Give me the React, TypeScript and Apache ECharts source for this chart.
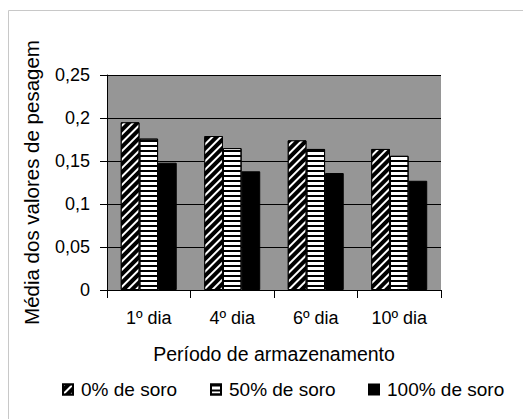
import React, { useEffect, useRef } from "react";
import * as echarts from "echarts";

const categories = ["1º dia", "4º dia", "6º dia", "10º dia"];
const seriesNames = ["0% de soro", "50% de soro", "100% de soro"];
const soro0 = [0.195, 0.179, 0.174, 0.164];
const soro50 = [0.176, 0.165, 0.164, 0.156];
const soro100 = [0.148, 0.138, 0.136, 0.127];
const yAxisTitle = "Média dos valores de pesagem";
const xAxisTitle = "Período de armazenamento";

const FONT = "'Liberation Sans', Arial, sans-serif";

export default function App() {
  const ref = useRef<HTMLDivElement>(null);
  useEffect(() => {
    if (!ref.current) return;
    const chart = echarts.init(ref.current, undefined, { renderer: "svg" });
    const borderStyle = { borderColor: "#000", borderWidth: 1 };
    const styles = [
      {
        color: "#000",
        ...borderStyle,
        decal: {
          symbol: "rect",
          symbolSize: 1,
          color: "#fff",
          dashArrayX: [1, 0],
          dashArrayY: [2, 4],
          rotation: -Math.PI / 4,
        },
      },
      {
        color: "#fff",
        ...borderStyle,
        decal: {
          symbol: "rect",
          symbolSize: 1,
          color: "#000",
          dashArrayX: [1, 0],
          dashArrayY: [2, 3],
          rotation: 0,
        },
      },
      { color: "#000", ...borderStyle },
    ];
    const data = [soro0, soro50, soro100];
    const legendLefts = [62, 210, 368];
    chart.setOption({
      animation: false,
      backgroundColor: "#fff",
      textStyle: { fontFamily: FONT },
      graphic: [
        {
          type: "rect",
          shape: { x: 8.5, y: 10.5, width: 700, height: 600 },
          style: { fill: "none", stroke: "#c8c8c8", lineWidth: 1 },
          silent: true,
        },
      ],
      grid: {
        left: 107,
        top: 75,
        right: 82,
        bottom: 129,
        show: true,
        backgroundColor: "#969696",
        borderWidth: 0,
      },
      legend: seriesNames.map((n, i) => ({
        data: [n],
        left: legendLefts[i],
        top: 380,
        padding: 0,
        itemWidth: 10,
        itemHeight: 10,
        icon: "rect",
        selectedMode: false,
        textStyle: { fontSize: 19, color: "#000", fontFamily: FONT, padding: [0, 0, 0, 3] },
      })),
      xAxis: {
        type: "category",
        data: categories,
        name: xAxisTitle,
        nameLocation: "middle",
        nameGap: 54,
        nameTextStyle: { fontSize: 19.5, color: "#000", fontFamily: FONT },
        axisLine: { show: true, lineStyle: { color: "#000", width: 1 } },
        axisTick: { show: true, length: 8, lineStyle: { color: "#000" } },
        axisLabel: { fontSize: 18, color: "#000", margin: 19, fontFamily: FONT },
        splitLine: { show: false },
      },
      yAxis: {
        type: "value",
        min: 0,
        max: 0.25,
        interval: 0.05,
        name: yAxisTitle,
        nameLocation: "middle",
        nameGap: 65,
        nameTextStyle: { fontSize: 20.5, color: "#000", fontFamily: FONT },
        axisLine: { show: true, lineStyle: { color: "#000", width: 1 } },
        axisTick: { show: true, length: 7, lineStyle: { color: "#000" } },
        axisLabel: {
          fontSize: 18,
          color: "#000",
          margin: 17,
          fontFamily: FONT,
          formatter: (v: number) => String(Math.round(v * 100) / 100).replace(".", ","),
        },
        splitLine: { show: true, lineStyle: { color: "#000", width: 1 } },
      },
      series: seriesNames.map((n, i) => ({
        type: "bar",
        name: n,
        data: data[i],
        barGap: "0%",
        barCategoryGap: "33%",
        itemStyle: styles[i],
      })),
    });
    return () => chart.dispose();
  }, []);
  return (
    <div
      ref={ref}
      style={{ position: "absolute", left: 0, top: 0, width: 523, height: 419 }}
    />
  );
}
